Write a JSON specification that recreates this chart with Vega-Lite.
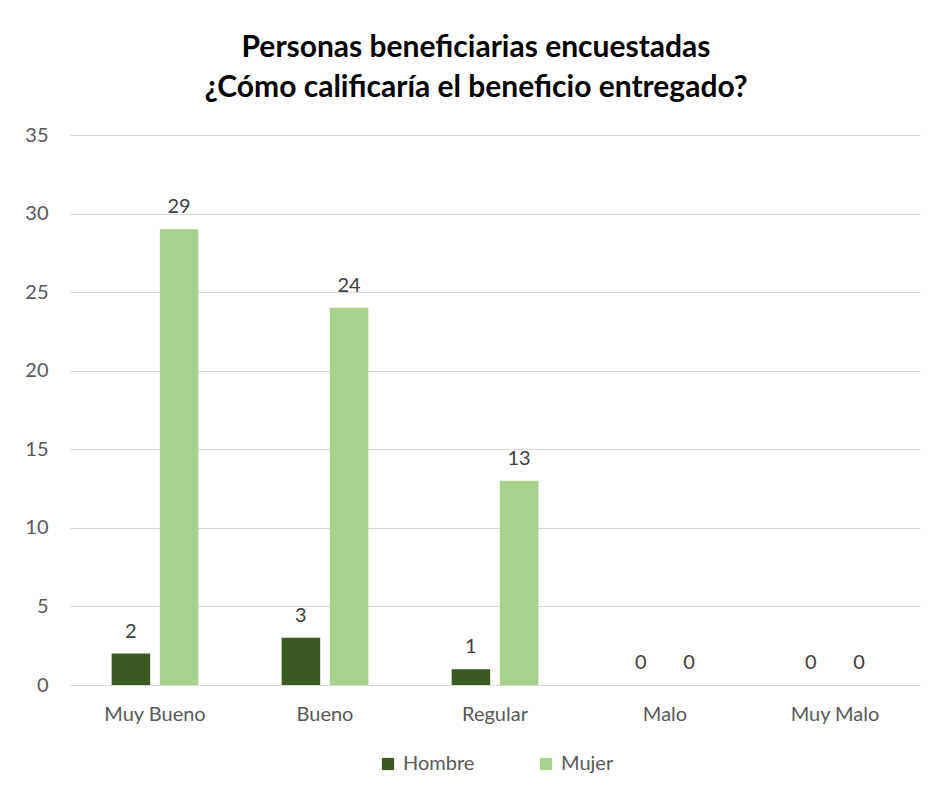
{
  "$schema": "https://vega.github.io/schema/vega-lite/v6.json",
  "autosize": "none",
  "width": 850,
  "height": 550,
  "padding": {"left": 70, "top": 135, "right": 23, "bottom": 122},
  "background": "white",
  "title": {
    "text": ["Personas beneficiarias encuestadas", "¿Cómo calificaría el beneficio entregado?"],
    "font": "Lato",
    "fontSize": 30,
    "fontWeight": "bold",
    "color": "#000000",
    "anchor": "middle",
    "dx": -19,
    "offset": 22,
    "lineHeight": 40
  },
  "data": {
    "values": [
      {"categoria": "Muy Bueno", "sexo": "Hombre", "valor": 2},
      {"categoria": "Muy Bueno", "sexo": "Mujer", "valor": 29},
      {"categoria": "Bueno", "sexo": "Hombre", "valor": 3},
      {"categoria": "Bueno", "sexo": "Mujer", "valor": 24},
      {"categoria": "Regular", "sexo": "Hombre", "valor": 1},
      {"categoria": "Regular", "sexo": "Mujer", "valor": 13},
      {"categoria": "Malo", "sexo": "Hombre", "valor": 0},
      {"categoria": "Malo", "sexo": "Mujer", "valor": 0},
      {"categoria": "Muy Malo", "sexo": "Hombre", "valor": 0},
      {"categoria": "Muy Malo", "sexo": "Mujer", "valor": 0}
    ]
  },
  "encoding": {
    "x": {
      "field": "categoria",
      "type": "nominal",
      "sort": ["Muy Bueno", "Bueno", "Regular", "Malo", "Muy Malo"],
      "scale": {"paddingInner": 0.49, "paddingOuter": 0.245},
      "axis": {
        "title": null,
        "labelAngle": 0,
        "labelFont": "Lato",
        "labelFontSize": 20,
        "labelColor": "#595959",
        "labelPadding": 19,
        "ticks": false,
        "domainColor": "#d9d9d9",
        "domainWidth": 1
      }
    },
    "xOffset": {
      "field": "sexo",
      "type": "nominal",
      "sort": ["Hombre", "Mujer"],
      "scale": {"paddingInner": 0.2, "paddingOuter": 0}
    },
    "y": {
      "field": "valor",
      "type": "quantitative",
      "scale": {"domain": [0, 35]},
      "axis": {
        "title": null,
        "values": [0, 5, 10, 15, 20, 25, 30, 35],
        "labelFont": "Lato",
        "labelFontSize": 20,
        "labelColor": "#595959",
        "labelPadding": 22,
        "ticks": false,
        "domain": false,
        "gridColor": "#d9d9d9",
        "gridWidth": 1
      }
    }
  },
  "layer": [
    {
      "mark": {"type": "bar"},
      "encoding": {
        "color": {
          "field": "sexo",
          "type": "nominal",
          "sort": ["Hombre", "Mujer"],
          "scale": {"domain": ["Hombre", "Mujer"], "range": ["#3a5a22", "#a9d18e"]},
          "legend": {
            "title": null,
            "orient": "none",
            "direction": "horizontal",
            "legendX": 308,
            "legendY": 619,
            "symbolType": "square",
            "symbolSize": 150,
            "symbolStrokeWidth": 0,
            "labelFont": "Lato",
            "labelFontSize": 20,
            "labelColor": "#595959",
            "labelOffset": 5,
            "columnPadding": 61
          }
        }
      }
    },
    {
      "mark": {"type": "text", "baseline": "bottom", "dy": -12, "font": "Lato", "fontSize": 20, "color": "#404040"},
      "encoding": {
        "text": {"field": "valor", "type": "quantitative"}
      }
    }
  ],
  "config": {
    "view": {"stroke": null}
  }
}
